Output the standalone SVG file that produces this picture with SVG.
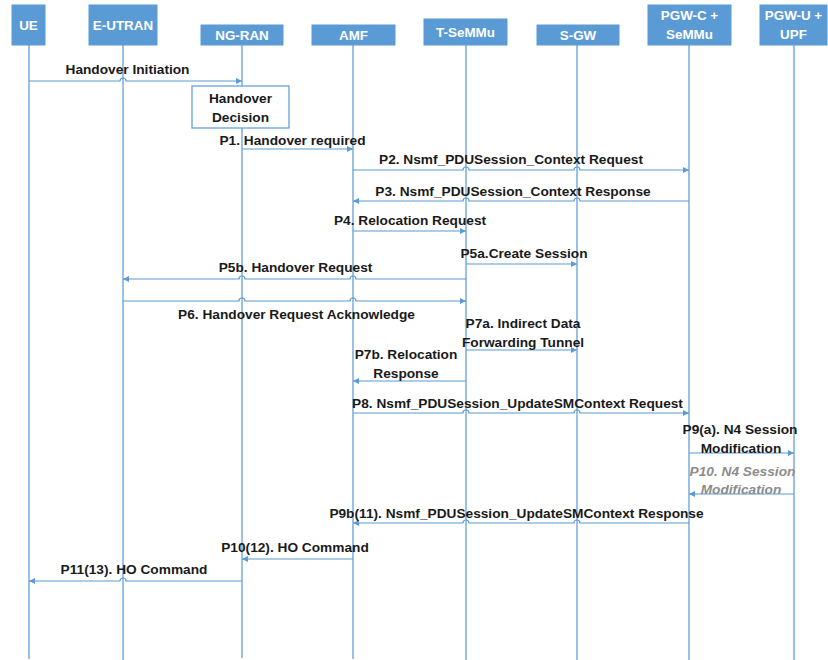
<svg xmlns="http://www.w3.org/2000/svg" width="828" height="660" viewBox="0 0 828 660">
  <defs>
    <marker id="arrow" viewBox="0 0 10 10" refX="10" refY="5" markerWidth="8" markerHeight="6" markerUnits="userSpaceOnUse" orient="auto-start-reverse">
      <path d="M0,0 L10,5 L0,10 Z" fill="#5B9BD5"/>
    </marker>
  </defs>
  <style>
    .box { fill: #5B9BD5; stroke: #5B9BD5; stroke-width: 1; }
    .hdr { font-family: "Liberation Sans", Arial, sans-serif; font-weight: bold; font-size: 13.4px; fill: #ffffff; text-anchor: middle; }
    .life { stroke: #6FA6DB; stroke-width: 1.4; fill: none; }
    .msg { stroke: #5B9BD5; stroke-width: 1.2; fill: none; }
    .lbl { font-family: "Liberation Sans", Arial, sans-serif; font-weight: bold; font-size: 13.7px; fill: #1a1a1a; text-anchor: middle; }
    .gray { font-family: "Liberation Sans", Arial, sans-serif; font-weight: bold; font-style: italic; font-size: 13.7px; fill: #8c8c8c; text-anchor: middle; }
    .note { fill: #ffffff; stroke: #5B9BD5; stroke-width: 1.2; }
  </style>

  <!-- lifelines -->
  <g id="lifelines">
    <line class="life" x1="29" y1="45" x2="29" y2="659"/>
    <line class="life" x1="123" y1="45" x2="123" y2="660"/>
    <line class="life" x1="242" y1="45" x2="242" y2="658"/>
    <line class="life" x1="353" y1="45" x2="353" y2="659"/>
    <line class="life" x1="466" y1="45" x2="466" y2="660"/>
    <line class="life" x1="577" y1="45" x2="577" y2="660"/>
    <line class="life" x1="689" y1="45" x2="689" y2="660"/>
    <line class="life" x1="794" y1="45" x2="794" y2="660"/>
  </g>

  <!-- participants -->
  <g id="ue">
    <rect class="box" x="12" y="5" width="33" height="40"/>
    <text class="hdr" x="28.5" y="30">UE</text>
  </g>
  <g id="e-utran">
    <rect class="box" x="89" y="5" width="68" height="40"/>
    <text class="hdr" x="123" y="30">E-UTRAN</text>
  </g>
  <g id="ng-ran">
    <rect class="box" x="201" y="25" width="82" height="20"/>
    <text class="hdr" x="242" y="40">NG-RAN</text>
  </g>
  <g id="amf">
    <rect class="box" x="312" y="25" width="83" height="20"/>
    <text class="hdr" x="353.5" y="40">AMF</text>
  </g>
  <g id="t-semmu">
    <rect class="box" x="424" y="19" width="83" height="26"/>
    <text class="hdr" x="465.5" y="37">T-SeMMu</text>
  </g>
  <g id="s-gw">
    <rect class="box" x="537" y="25" width="82" height="20"/>
    <text class="hdr" x="578" y="40">S-GW</text>
  </g>
  <g id="pgw-c">
    <rect class="box" x="648" y="5" width="83" height="40"/>
    <text class="hdr" x="689.5" y="20">PGW-C +</text>
    <text class="hdr" x="689.5" y="39">SeMMu</text>
  </g>
  <g id="pgw-u">
    <rect class="box" x="760" y="5" width="67" height="40"/>
    <text class="hdr" x="793.5" y="20">PGW-U +</text>
    <text class="hdr" x="793.5" y="39">UPF</text>
  </g>

  <!-- local action on NG-RAN -->
  <g id="handover-decision">
    <rect class="note" x="192" y="86" width="97" height="42"/>
    <text class="lbl" x="240.5" y="103">Handover</text>
    <text class="lbl" x="240.5" y="122">Decision</text>
  </g>

  <!-- messages (small arcs where a message crosses a lifeline) -->
  <g id="connectors">
    <path class="msg" marker-end="url(#arrow)" d="M29,81 L120,81 A3,3 0 0 1 126,81 L242,81"/>
    <path class="msg" marker-end="url(#arrow)" d="M242,149 L353,149"/>
    <path class="msg" marker-end="url(#arrow)" d="M353,170 L463,170 A3,3 0 0 1 469,170 L574,170 A3,3 0 0 1 580,170 L689,170"/>
    <path class="msg" marker-start="url(#arrow)" d="M353,201 L463,201 A3,3 0 0 1 469,201 L574,201 A3,3 0 0 1 580,201 L689,201"/>
    <path class="msg" marker-end="url(#arrow)" d="M353,231 L466,231"/>
    <path class="msg" marker-end="url(#arrow)" d="M466,264 L577,264"/>
    <path class="msg" marker-start="url(#arrow)" d="M123,279 L239,279 A3,3 0 0 1 245,279 L350,279 A3,3 0 0 1 356,279 L466,279"/>
    <path class="msg" marker-end="url(#arrow)" d="M123,301 L239,301 A3,3 0 0 1 245,301 L350,301 A3,3 0 0 1 356,301 L466,301"/>
    <path class="msg" marker-end="url(#arrow)" d="M466,350 L577,350"/>
    <path class="msg" marker-start="url(#arrow)" d="M353,381 L466,381"/>
    <path class="msg" marker-end="url(#arrow)" d="M353,413 L463,413 A3,3 0 0 1 469,413 L574,413 A3,3 0 0 1 580,413 L689,413"/>
    <path class="msg" marker-end="url(#arrow)" d="M689,453 L794,453"/>
    <path class="msg" marker-start="url(#arrow)" d="M689,494 L794,494"/>
    <path class="msg" marker-start="url(#arrow)" d="M353,523 L463,523 A3,3 0 0 1 469,523 L574,523 A3,3 0 0 1 580,523 L689,523"/>
    <path class="msg" marker-start="url(#arrow)" d="M242,559 L353,559"/>
    <path class="msg" marker-start="url(#arrow)" d="M29,581 L120,581 A3,3 0 0 1 126,581 L242,581"/>
  </g>

  <!-- message labels -->
  <g id="labels">
    <text class="lbl" x="127.5" y="74">Handover Initiation</text>
    <text class="lbl" x="292.5" y="145">P1. Handover required</text>
    <text class="lbl" x="511" y="164">P2. Nsmf_PDUSession_Context Request</text>
    <text class="lbl" x="513" y="196">P3. Nsmf_PDUSession_Context Response</text>
    <text class="lbl" x="410" y="225">P4. Relocation Request</text>
    <text class="lbl" x="524" y="258">P5a.Create Session</text>
    <text class="lbl" x="295.5" y="272">P5b. Handover Request</text>
    <text class="lbl" x="296.5" y="319">P6. Handover Request Acknowledge</text>
    <text class="lbl" x="523" y="328">P7a. Indirect Data</text>
    <text class="lbl" x="523" y="347">Forwarding Tunnel</text>
    <text class="lbl" x="406" y="359">P7b. Relocation</text>
    <text class="lbl" x="406" y="378">Response</text>
    <text class="lbl" x="517.5" y="408">P8. Nsmf_PDUSession_UpdateSMContext Request</text>
    <text class="lbl" x="740" y="434">P9(a). N4 Session</text>
    <text class="lbl" x="741" y="453">Modification</text>
    <text class="gray" x="742.5" y="476">P10. N4 Session</text>
    <text class="gray" x="741" y="494">Modification</text>
    <text class="lbl" x="516.5" y="518">P9b(11). Nsmf_PDUSession_UpdateSMContext Response</text>
    <text class="lbl" x="295" y="552">P10(12). HO Command</text>
    <text class="lbl" x="134" y="574">P11(13). HO Command</text>
  </g>
</svg>
